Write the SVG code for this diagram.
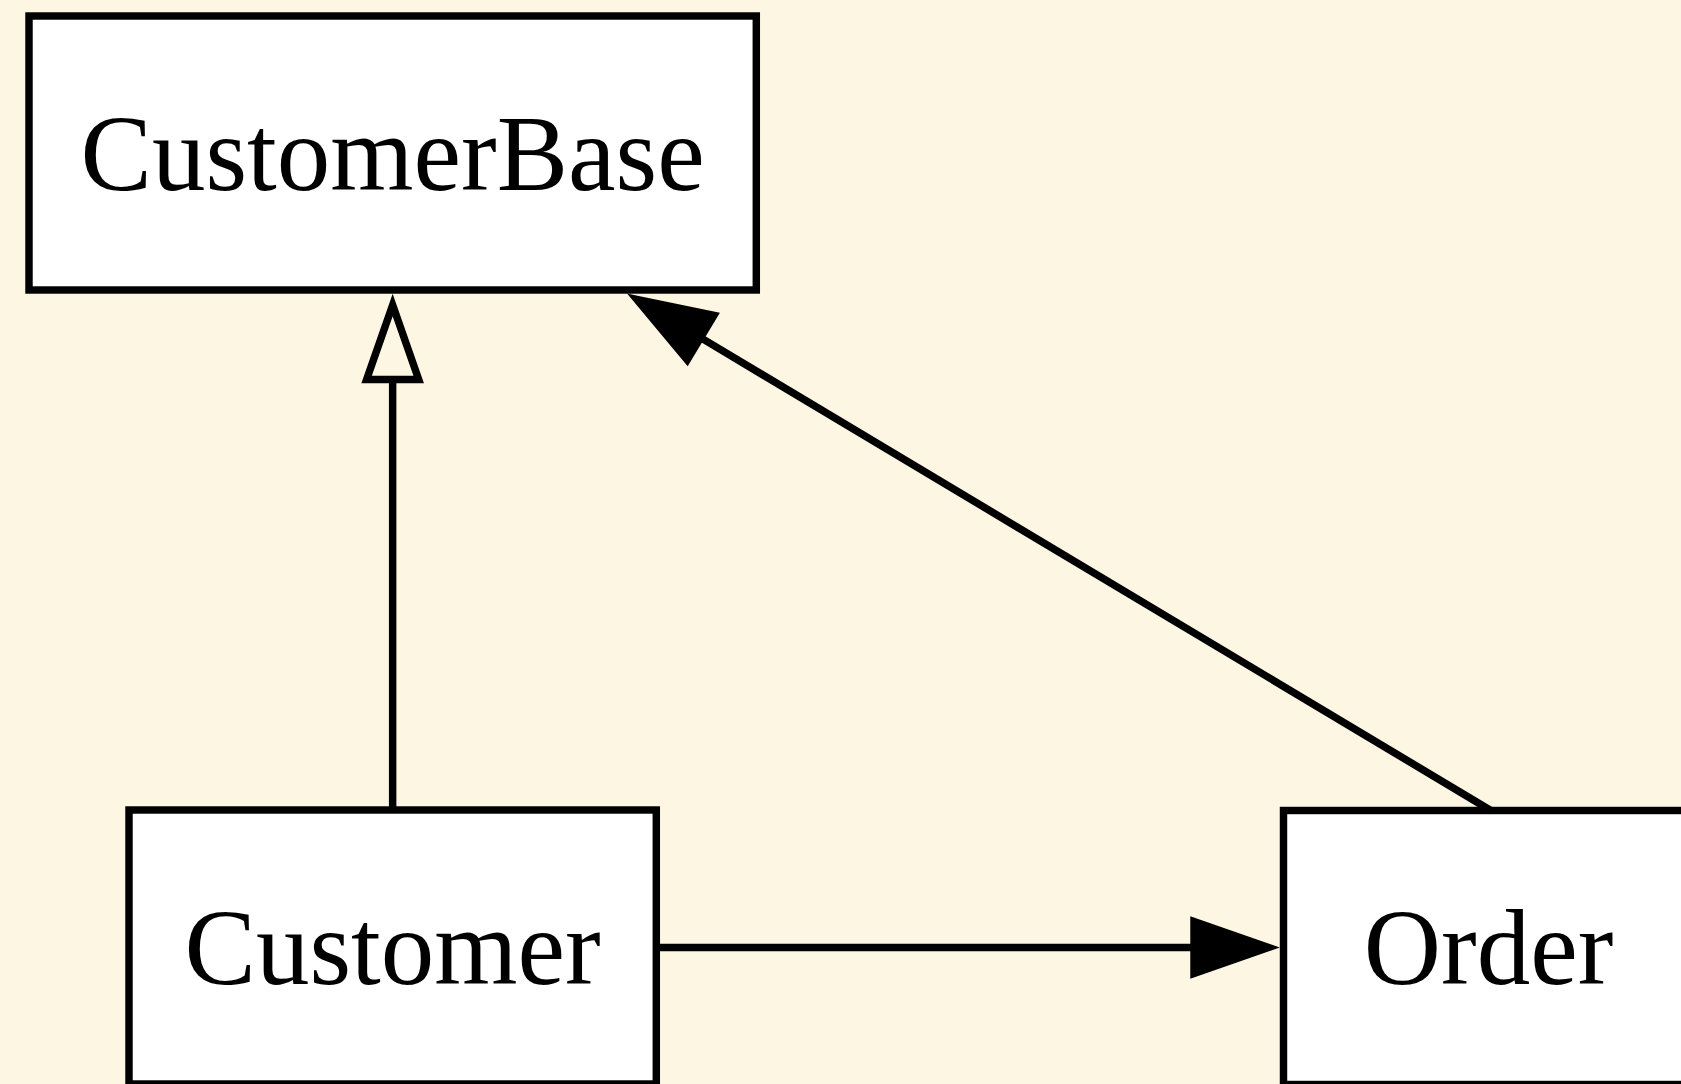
<svg xmlns="http://www.w3.org/2000/svg" width="1681" height="1084" viewBox="0 0 1681 1084">
  <style>
    .node rect { fill: #ffffff; stroke: #000000; stroke-width: 7.45; }
    .node text { font-family: "Liberation Serif", "Times New Roman", serif; font-size: 107px; fill: #000000; text-anchor: middle; }
    .edge line { stroke: #000000; stroke-width: 7.45; fill: none; }
    .arrow-filled { fill: #000000; stroke: #000000; stroke-width: 7.45; }
    .arrow-hollow { fill: none; stroke: #000000; stroke-width: 7.45; }
  </style>
  <rect x="0" y="0" width="1681" height="1084" fill="#fdf6e3"/>
  <g id="node-CustomerBase" class="node">
    <rect x="29" y="16" width="727.3" height="274"/>
    <text x="392.65" y="189.5">CustomerBase</text>
  </g>
  <g id="node-Customer" class="node">
    <rect x="129" y="810" width="527.3" height="274"/>
    <text x="392.65" y="983.5">Customer</text>
  </g>
  <g id="node-Order" class="node">
    <rect x="1283.5" y="810.5" width="410" height="274"/>
    <text x="1488.5" y="983.5">Order</text>
  </g>
  <g id="connectors" class="edge">
    <g id="edge-Customer-CustomerBase">
      <line x1="392.65" y1="810" x2="392.65" y2="379.5"/>
      <polygon class="arrow-hollow" points="392.65,305 418.7,379.5 366.6,379.5"/>
    </g>
    <g id="edge-Order-CustomerBase">
      <line x1="1491.7" y1="811" x2="700.6" y2="337.6"/>
      <polygon class="arrow-filled" points="636.7,299.3 714.0,315.3 687.2,359.9"/>
    </g>
    <g id="edge-Customer-Order">
      <line x1="656.3" y1="947.5" x2="1194" y2="947.5"/>
      <polygon class="arrow-filled" points="1268.5,947.5 1194,973.5 1194,921.5"/>
    </g>
  </g>
</svg>
